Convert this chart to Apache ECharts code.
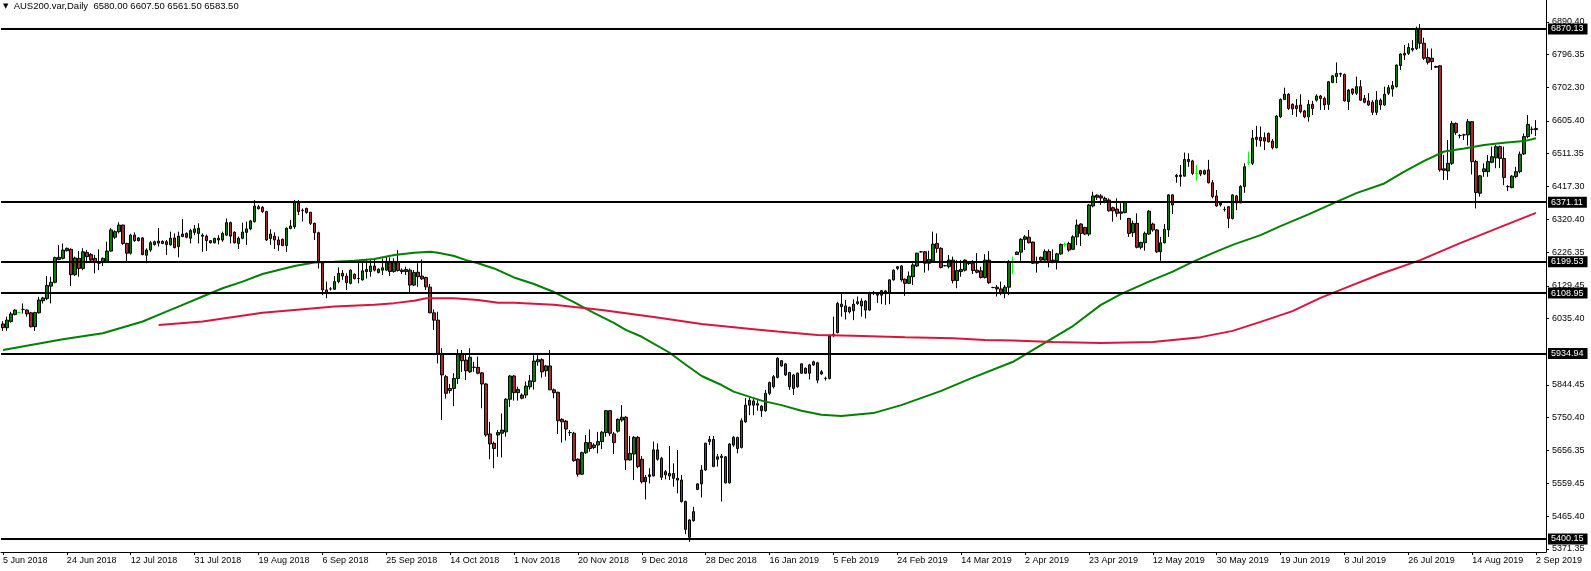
<!DOCTYPE html>
<html>
<head>
<meta charset="utf-8">
<script src="https://cdn.jsdelivr.net/npm/echarts@6/dist/echarts.min.js"></script>
<style>
html,body{margin:0;padding:0;background:#fff;}
#chart{width:1591px;height:571px;}
</style>
</head>
<body>
<div id="chart"></div>
<script>
// Date tick labels (one every 16 daily bars)
const tickLabels = ['5 Jun 2018','24 Jun 2018','12 Jul 2018','31 Jul 2018','19 Aug 2018','6 Sep 2018','25 Sep 2018','14 Oct 2018','1 Nov 2018','20 Nov 2018','9 Dec 2018','28 Dec 2018','16 Jan 2019','5 Feb 2019','24 Feb 2019','14 Mar 2019','2 Apr 2019','23 Apr 2019','12 May 2019','30 May 2019','19 Jun 2019','8 Jul 2019','26 Jul 2019','14 Aug 2019','2 Sep 2019'];

// Price axis tick labels
const yTicks = [6890.40, 6796.35, 6702.30, 6605.40, 6511.35, 6417.30, 6320.40, 6226.35, 6129.45, 6035.40, 5844.45, 5750.40, 5656.35, 5559.45, 5465.40, 5371.35];

// Horizontal levels and last price
const levels = [6870.13, 6371.11, 6199.53, 6108.95, 5934.94, 5400.15];
const lastPrice = 6583.50;

// Daily candles [open, high, low, close]
const ohlc = [
/*0*/  [6020,6028,6000,6009],[6009,6041,6000,6031],[6027,6055,6024,6049],[6047,6062,6045,6060],[6053,6055,6051,6053],[6062,6079,6050,6062],[6060,6062,6041,6049],[6052,6055,6010,6012],[6012,6055,6000,6053],[6052,6098,6050,6089],
/*10*/ [6087,6098,6079,6095],[6093,6158,6089,6131],[6129,6156,6079,6140],[6140,6214,6137,6211],[6206,6247,6204,6212],[6209,6252,6206,6233],[6231,6240,6229,6238],[6235,6238,6129,6162],[6162,6214,6158,6210],[6209,6230,6156,6180],
/*20*/ [6180,6238,6175,6228],[6226,6233,6195,6214],[6220,6224,6200,6204],[6209,6219,6166,6197],[6200,6235,6175,6195],[6200,6212,6187,6209],[6200,6257,6200,6230],[6230,6296,6228,6291],[6270,6290,6265,6286],[6286,6313,6281,6305],
/*30*/ [6305,6306,6248,6252],[6252,6254,6201,6224],[6224,6280,6220,6276],[6276,6284,6257,6260],[6260,6270,6258,6268],[6268,6270,6218,6220],[6218,6238,6195,6233],[6233,6259,6228,6254],[6249,6260,6246,6257],[6253,6296,6243,6259],
/*40*/ [6258,6261,6250,6252],[6257,6262,6219,6249],[6248,6286,6246,6267],[6268,6281,6238,6240],[6243,6286,6212,6273],[6279,6322,6270,6272],[6281,6284,6267,6270],[6267,6294,6252,6289],[6284,6305,6276,6294],[6281,6310,6252,6296],
/*50*/ [6276,6281,6228,6273],[6273,6278,6230,6260],[6260,6262,6252,6254],[6254,6268,6252,6267],[6262,6276,6249,6267],[6262,6286,6257,6281],[6276,6324,6273,6312],[6312,6315,6252,6273],[6284,6287,6252,6254],[6252,6272,6236,6267],
/*60*/ [6267,6312,6264,6285],[6284,6315,6248,6294],[6294,6320,6290,6317],[6315,6377,6312,6360],[6352,6363,6350,6358],[6356,6360,6340,6344],[6344,6346,6259,6262],[6266,6293,6248,6279],[6273,6284,6236,6262],[6262,6272,6231,6248],
/*70*/ [6264,6266,6244,6246],[6246,6298,6228,6296],[6295,6320,6293,6302],[6300,6377,6294,6370],[6368,6377,6334,6344],[6347,6353,6315,6348],[6353,6355,6338,6341],[6342,6342,6305,6310],[6310,6312,6262,6283],[6283,6286,6180,6200],
/*80*/ [6195,6197,6103,6118],[6118,6142,6094,6108],[6121,6126,6116,6121],[6120,6158,6118,6142],[6142,6183,6137,6166],[6166,6175,6147,6158],[6158,6166,6118,6139],[6137,6177,6134,6175],[6163,6166,6148,6151],[6151,6200,6137,6151],
/*90*/ [6147,6200,6145,6173],[6171,6204,6151,6177],[6171,6204,6156,6187],[6187,6204,6171,6175],[6168,6180,6166,6178],[6175,6209,6161,6182],[6175,6214,6174,6200],[6200,6212,6158,6171],[6171,6209,6168,6200],[6197,6233,6171,6174],
/*100*/[6175,6180,6164,6171],[6171,6185,6161,6177],[6175,6180,6108,6132],[6132,6175,6129,6168],[6169,6195,6127,6156],[6158,6206,6147,6150],[6154,6156,6118,6127],[6126,6135,6051,6052],[6052,6062,6003,6031],[6031,6055,5906,5935],
/*110*/[5935,5950,5743,5873],[5868,5873,5805,5820],[5828,5847,5820,5834],[5834,5878,5783,5863],[5863,5947,5847,5933],[5933,5945,5882,5914],[5916,5935,5858,5885],[5882,5950,5879,5924],[5895,5911,5882,5895],[5895,5926,5875,5878],
/*120*/[5879,5881,5777,5847],[5847,5849,5695,5700],[5703,5738,5630,5674],[5676,5681,5604,5661],[5700,5714,5637,5707],[5705,5762,5635,5714],[5709,5806,5695,5803],[5803,5873,5781,5870],[5870,5873,5799,5822],[5822,5839,5799,5831],
/*130*/[5815,5820,5803,5806],[5815,5854,5806,5841],[5839,5873,5831,5856],[5854,5930,5831,5913],[5911,5930,5900,5917],[5917,5921,5865,5882],[5885,5902,5868,5899],[5899,5945,5830,5830],[5830,5834,5806,5822],[5823,5825,5703,5741],
/*140*/[5745,5748,5678,5738],[5740,5743,5684,5717],[5707,5714,5697,5707],[5705,5709,5623,5626],[5630,5633,5580,5587],[5587,5652,5585,5649],[5649,5700,5645,5678],[5678,5716,5652,5661],[5664,5676,5659,5671],[5671,5709,5647,5681],
/*150*/[5681,5712,5659,5708],[5707,5772,5695,5770],[5770,5772,5697,5705],[5703,5709,5645,5678],[5711,5748,5707,5745],[5743,5786,5738,5751],[5751,5755,5599,5628],[5628,5697,5626,5647],[5645,5697,5570,5693],[5693,5697,5604,5609],
/*160*/[5630,5639,5560,5565],[5565,5585,5514,5578],[5580,5604,5560,5585],[5582,5681,5580,5657],[5657,5676,5626,5630],[5633,5637,5570,5578],[5594,5599,5572,5585],[5589,5668,5570,5582],[5589,5618,5551,5575],[5575,5657,5532,5570],
/*170*/[5570,5585,5505,5508],[5508,5511,5414,5428],[5405,5457,5392,5455],[5453,5493,5450,5479],[5543,5561,5541,5559],[5559,5613,5520,5599],[5599,5678,5597,5676],[5681,5697,5671,5687],[5687,5697,5607,5609],[5630,5645,5609,5637],
/*180*/[5639,5645,5508,5635],[5637,5639,5560,5562],[5562,5676,5560,5674],[5671,5697,5666,5693],[5693,5695,5647,5661],[5664,5748,5661,5741],[5738,5806,5735,5786],[5786,5808,5757,5800],[5798,5806,5757,5786],[5790,5800,5770,5786],
/*190*/[5783,5786,5752,5770],[5770,5830,5767,5820],[5820,5854,5815,5851],[5839,5873,5834,5868],[5866,5924,5863,5921],[5914,5916,5897,5899],[5905,5906,5870,5873],[5880,5882,5830,5839],[5873,5876,5815,5834],[5839,5880,5836,5878],
/*200*/[5878,5906,5876,5905],[5892,5895,5876,5878],[5878,5905,5860,5902],[5902,5914,5899,5911],[5908,5911,5849,5858],[5882,5887,5873,5876],[5863,5868,5857,5863],[5863,5990,5860,5985],[5986,6041,5982,5990],[5995,6084,5993,6079],
/*210*/[6077,6106,6041,6070],[6072,6089,6033,6055],[6068,6070,6050,6055],[6058,6091,6031,6077],[6079,6099,6075,6084],[6072,6094,6041,6086],[6086,6089,6036,6060],[6060,6113,6058,6110],[6108,6115,6103,6111],[6106,6110,6081,6103],
/*220*/[6103,6118,6077,6116],[6115,6118,6075,6108],[6108,6149,6077,6147],[6147,6177,6145,6175],[6180,6187,6175,6185],[6187,6190,6142,6147],[6149,6151,6101,6137],[6137,6171,6135,6158],[6156,6195,6132,6190],[6187,6225,6185,6224],
/*230*/[6228,6230,6226,6228],[6228,6230,6168,6195],[6195,6231,6174,6206],[6202,6286,6200,6250],[6252,6281,6225,6238],[6238,6241,6180,6183],[6188,6190,6186,6188],[6185,6219,6180,6204],[6204,6214,6137,6145],[6145,6204,6123,6174],
/*240*/[6171,6204,6156,6177],[6175,6206,6171,6204],[6197,6200,6190,6194],[6195,6204,6164,6174],[6175,6224,6166,6169],[6173,6185,6151,6154],[6154,6221,6151,6204],[6204,6230,6135,6139],[6125,6127,6123,6125],[6126,6132,6099,6121],
/*250*/[6121,6142,6103,6108],[6108,6132,6094,6126],[6126,6204,6103,6200],[6200,6214,6164,6200],[6220,6229,6219,6227],[6227,6267,6202,6264],[6264,6276,6233,6271],[6270,6291,6252,6254],[6256,6257,6193,6195],[6198,6214,6168,6195],
/*260*/[6212,6214,6202,6204],[6204,6235,6202,6229],[6229,6235,6183,6198],[6204,6235,6195,6197],[6202,6225,6177,6222],[6222,6252,6219,6249],[6249,6255,6243,6249],[6252,6257,6228,6233],[6235,6276,6233,6271],[6271,6321,6247,6305],
/*270*/[6308,6310,6245,6281],[6298,6300,6276,6279],[6279,6366,6273,6363],[6360,6401,6356,6389],[6385,6394,6377,6391],[6389,6394,6363,6383],[6382,6387,6368,6375],[6377,6382,6344,6346],[6355,6358,6315,6346],[6351,6382,6329,6339],
/*280*/[6343,6368,6320,6339],[6341,6374,6339,6371],[6324,6326,6271,6281],[6283,6318,6271,6310],[6310,6339,6238,6241],[6241,6257,6235,6255],[6254,6286,6231,6281],[6279,6348,6276,6345],[6308,6312,6286,6291],[6291,6293,6225,6228],
/*290*/[6228,6271,6202,6254],[6254,6308,6252,6293],[6291,6394,6271,6392],[6392,6394,6337,6363],[6445,6452,6427,6448],[6445,6478,6416,6449],[6446,6514,6445,6494],[6494,6512,6473,6488],[6490,6493,6449,6454],[6454,6478,6433,6454],
/*300*/[6462,6464,6446,6452],[6452,6465,6450,6462],[6464,6493,6425,6427],[6427,6435,6382,6387],[6389,6406,6358,6360],[6368,6372,6358,6363],[6350,6358,6344,6350],[6358,6360,6296,6324],[6324,6394,6321,6392],[6389,6392,6348,6369],
/*310*/[6369,6420,6368,6416],[6416,6483,6398,6473],[6485,6517,6478,6485],[6483,6579,6478,6555],[6558,6591,6531,6552],[6558,6589,6531,6548],[6557,6572,6521,6547],[6569,6572,6543,6545],[6547,6553,6523,6528],[6528,6622,6526,6619],
/*320*/[6617,6670,6613,6667],[6667,6701,6665,6682],[6682,6685,6637,6641],[6653,6656,6622,6640],[6649,6668,6617,6641],[6651,6682,6627,6632],[6634,6637,6613,6617],[6617,6665,6603,6653],[6653,6663,6622,6641],[6665,6682,6661,6677],
/*330*/[6677,6680,6637,6670],[6670,6675,6637,6651],[6653,6720,6637,6718],[6716,6738,6714,6735],[6733,6774,6714,6742],[6742,6744,6732,6740],[6739,6742,6661,6663],[6661,6697,6637,6694],[6697,6699,6680,6685],[6685,6733,6680,6704],
/*340*/[6704,6723,6663,6665],[6670,6680,6656,6659],[6663,6685,6649,6651],[6659,6665,6622,6630],[6630,6691,6622,6665],[6665,6670,6637,6651],[6651,6704,6649,6682],[6685,6709,6680,6701],[6697,6720,6675,6707],[6704,6768,6701,6766],
/*350*/[6765,6800,6752,6798],[6795,6824,6781,6800],[6800,6829,6795,6817],[6814,6838,6805,6810],[6814,6877,6810,6872],[6872,6884,6814,6829],[6829,6845,6781,6786],[6788,6814,6768,6774],[6786,6814,6752,6776],[6762,6764,6758,6760],
/*360*/[6764,6766,6459,6464],[6467,6507,6435,6463],[6461,6550,6435,6483],[6483,6605,6478,6598],[6598,6601,6565,6572],[6563,6567,6555,6563],[6565,6568,6550,6565],[6565,6611,6534,6603],[6603,6605,6451,6488],[6488,6493,6353,6399],
/*370*/[6397,6449,6387,6447],[6459,6483,6444,6467],[6459,6507,6444,6488],[6486,6531,6483,6502],[6499,6536,6469,6531],[6531,6534,6469,6497],[6497,6531,6420,6442],[6416,6420,6403,6416],[6413,6449,6411,6446],[6445,6473,6440,6459],
/*380*/[6459,6517,6454,6509],[6510,6569,6507,6560],[6560,6622,6555,6595],[6581,6589,6567,6581],[6580,6607.5,6561.5,6583.5]
];

// Doji bars drawn in lime
const limeDoji = [4, 253, 266, 299, 312];

// Moving averages: [bar index, value]
const greenMA = [[0,5945],[15,5976],[25,5993],[35,6027],[40,6051],[45,6075],[50,6099],[55,6123],[60,6142],[65,6164],[73,6187],[78,6197],[83,6199],[88,6202],[93,6207],[98,6219],[103,6225],[107,6228],[109,6225],[113,6216],[116,6204],[119,6195],[123,6180],[128,6154],[133,6135],[138,6112],[143,6083],[148,6052],[153,6023],[156,6003],[160,5983],[167,5937],[170,5911],[175,5870],[180,5844],[183,5825],[190,5799],[195,5786],[200,5770],[205,5758],[210,5755],[218,5763],[225,5786],[235,5827],[242,5861],[253,5911],[260,5959],[268,6014],[275,6075],[280,6106],[288,6147],[293,6171],[298,6199],[303,6224],[308,6248],[315,6276],[320,6302],[327,6336],[334,6372],[339,6397],[346,6425],[351,6459],[356,6490],[361,6517],[366,6526],[371,6536],[376,6542],[381,6547],[384,6555]];
const redMA = [[39,6017],[50,6027],[65,6052],[73,6060],[83,6070],[93,6075],[98,6080],[103,6087],[106,6094],[113,6094],[119,6089],[124,6081],[128,6081],[138,6075],[150,6060],[163,6040],[175,6020],[188,6005],[194,5998],[204,5988],[213,5986],[226,5982],[238,5979],[246,5974],[253,5972],[263,5968],[275,5965],[288,5968],[300,5982],[308,6000],[315,6026],[323,6057],[330,6095],[338,6132],[345,6164],[355,6204],[365,6253],[375,6299],[384,6340]];

const N = 387; // 385 bars + right margin
const cats = Array.from({length: N}, (_, i) => String(i));
const candleData = ohlc.map((d, i) => {
  const item = {value: [d[0], d[3], d[2], d[1]]};
  if (limeDoji.indexOf(i) >= 0) {
    item.itemStyle = {color: '#00ff00', color0: '#00ff00', borderColor: '#00ff00', borderColor0: '#00ff00', borderColorDoji: '#00ff00'};
  }
  return item;
});
function toLine(pairs) {
  const a = new Array(N).fill(null);
  pairs.forEach(p => { a[p[0]] = p[1]; });
  return a;
}
const FONT = 'Liberation Sans';

const chart = echarts.init(document.getElementById('chart'), null, {renderer: 'canvas'});
chart.setOption({
  animation: false,
  backgroundColor: '#ffffff',
  title: {
    text: '{t|▼}  AUS200.var,Daily  6580.00 6607.50 6561.50 6583.50',
    left: 3, top: 1, padding: 0,
    textStyle: {fontFamily: FONT, fontSize: 9.5, fontWeight: 'normal', color: '#000',
      rich: {t: {fontFamily: 'DejaVu Sans', fontSize: 7, color: '#000'}}}
  },
  grid: {left: -2, top: 0, width: 1548, height: 552, containLabel: false},
  xAxis: {
    type: 'category', data: cats, boundaryGap: true,
    axisLine: {show: true, lineStyle: {color: '#000', width: 1}},
    axisTick: {show: true, interval: 15, alignWithLabel: true, length: 3, lineStyle: {color: '#000'}},
    axisLabel: {interval: 15, align: 'left', margin: 4, fontFamily: FONT, fontSize: 9, color: '#000',
      formatter: (v, idx) => (idx % 16 === 0 && tickLabels[idx / 16]) ? tickLabels[idx / 16] : ''},
    splitLine: {show: false}
  },
  yAxis: {
    type: 'value', position: 'right', min: 5362.7, max: 6953.7, scale: true,
    axisLine: {show: true, lineStyle: {color: '#000', width: 1}},
    axisTick: {show: true, length: 3, customValues: yTicks, lineStyle: {color: '#000'}},
    axisLabel: {show: true, customValues: yTicks, margin: 6, fontFamily: FONT, fontSize: 9, color: '#000',
      formatter: v => v.toFixed(2)},
    splitLine: {show: false}
  },
  series: [
    {
      type: 'candlestick', name: 'AUS200', data: candleData, z: 2,
      barWidth: 3,
      itemStyle: {color: '#0b7a0b', color0: '#a52a2a', borderColor: '#000', borderColor0: '#000', borderColorDoji: '#000', borderWidth: 1},
      emphasis: {disabled: true}
    },
    {
      type: 'line', name: 'MA green', data: toLine(greenMA), connectNulls: true, showSymbol: false, symbol: 'none', z: 3,
      lineStyle: {color: '#008000', width: 2}, emphasis: {disabled: true}
    },
    {
      type: 'line', name: 'MA red', data: toLine(redMA), connectNulls: true, showSymbol: false, symbol: 'none', z: 4,
      lineStyle: {color: '#dc143c', width: 2}, emphasis: {disabled: true},
      markLine: {
        silent: true, symbol: ['none', 'none'], animation: false,
        lineStyle: {color: '#000', width: 2, type: 'solid'},
        label: {show: true, position: 'end', distance: 2, formatter: p => Number(p.value).toFixed(2),
          backgroundColor: '#000', color: '#fff', fontFamily: FONT, fontSize: 9, lineHeight: 10, padding: [1, 4, 0, 3]},
        emphasis: {disabled: true},
        data: levels.map(v => ({yAxis: v})).concat([{yAxis: lastPrice, lineStyle: {width: 0, opacity: 0}}])
      }
    }
  ]
});
</script>
</body>
</html>
